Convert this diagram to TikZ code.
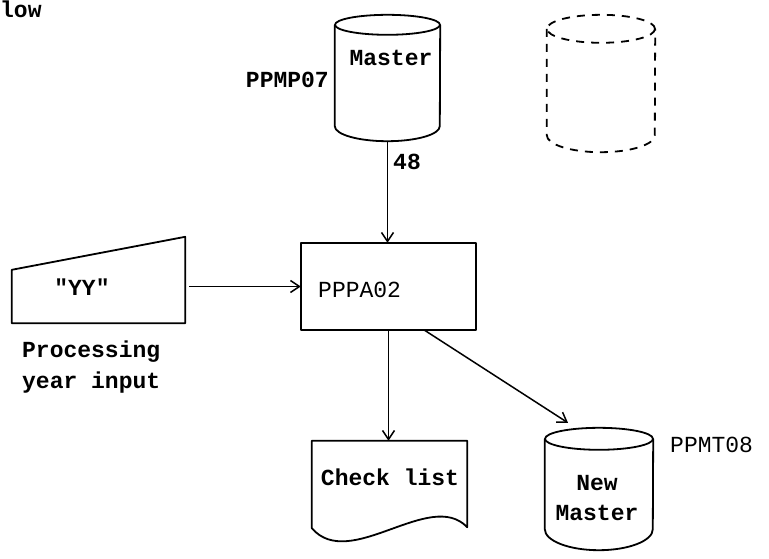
\documentclass[tikz,border=0pt]{standalone}
\usepackage{fontspec}
\setmonofont{Liberation Mono}
\usetikzlibrary{calc,arrows.meta}
\newcommand{\cylout}[5]{%
  \draw[#5] ($(#1.north)+(0,#3)$) ellipse [x radius=#2, y radius=#3];
  \draw[#5] ($(#1.north west)+(0,#3)$) -- ($(#1.south west)+(0,-#4)$)
     arc[start angle=180,end angle=0,x radius=#2,y radius=#4]
     -- ($(#1.north east)+(0,#3)$);
}
\begin{document}
\begin{tikzpicture}[x=1pt,y=-1pt,
  every node/.style={font=\ttfamily\bfseries\fontsize{23}{27}\selectfont, inner sep=0pt},
  lighttext/.style={font=\ttfamily\fontsize{23}{27}\selectfont},
  shape line/.style={line width=1.8pt, line join=round},
  flow/.style={line width=1.5pt, -{Straight Barb[length=9pt,width=12pt,line width=1.5pt]}},
  holder/.style={draw=none, rectangle, inner sep=0pt}]
\useasboundingbox (0,0) rectangle (769,558);

% shape holders
\node[holder, minimum width=105pt, minimum height=126pt] (master) at (387.5,78) {};
\node[holder, minimum width=108pt, minimum height=137pt] (spare) at (601,83.5) {};
\node[holder, minimum width=175pt, minimum height=87pt] (prog) at (388.5,286.5) {};
\node[holder, minimum width=173pt, minimum height=86pt] (yyin) at (98.5,280) {};
\node[holder, minimum width=155pt, minimum height=99pt] (check) at (389.5,490.5) {};
\node[holder, minimum width=108pt, minimum height=122pt] (newm) at (599,489) {};

% outlines
\cylout{master}{52.5}{10}{15}{shape line}
\cylout{spare}{54}{14}{17}{shape line, dash pattern=on 8pt off 7pt}
\cylout{newm}{54}{11}{21}{shape line}
\draw[shape line] (prog.north west) rectangle (prog.south east);
\draw[shape line] (yyin.south west) -- ($(yyin.north west)+(0,33)$) -- (yyin.north east) -- (yyin.south east) -- cycle;
\draw[shape line] (check.north west) -- (check.north east) -- ($(check.south east)+(0,-13)$)
  .. controls ($(check.south east)+(-37,-52)$) and ($(check.south west)+(38,32)$) .. ($(check.south west)+(0,-12)$) -- cycle;

% connectors
\draw[flow] (master.south) -- (master.south |- prog.north);
\draw[flow] ([xshift=4pt]yyin.east |- prog.west) -- (prog.west);
\draw[flow] (prog.south) -- (prog.south |- check.north);
\draw[flow] ([xshift=36pt]prog.south) -- ([xshift=-31pt,yshift=5pt]newm.north);

% texts
\node (mastertxt) at (391,58) {Master};
\node[anchor=east] (ppmp) at (329,80) {PPMP07};
\node[anchor=west] (lbl48) at (393,162) {48};
\node[anchor=west, lighttext] (progtxt) at (318,290) {PPPA02};
\node (yytxt) at (82,287) {"YY"};
\node[anchor=west] (proc1) at (22,352) {Processing};
\node[anchor=west] (proc2) at (22,383) {year input};
\node (checktxt) at (390,477) {Check list};
\node (newtxt) at (597,483) {New};
\node (newtxt2) at (597,513) {Master};
\node[anchor=west, lighttext] (ppmt) at (670,445) {PPMT08};
\node[anchor=north west] (title) at (0,1) {low};
\end{tikzpicture}
\end{document}
